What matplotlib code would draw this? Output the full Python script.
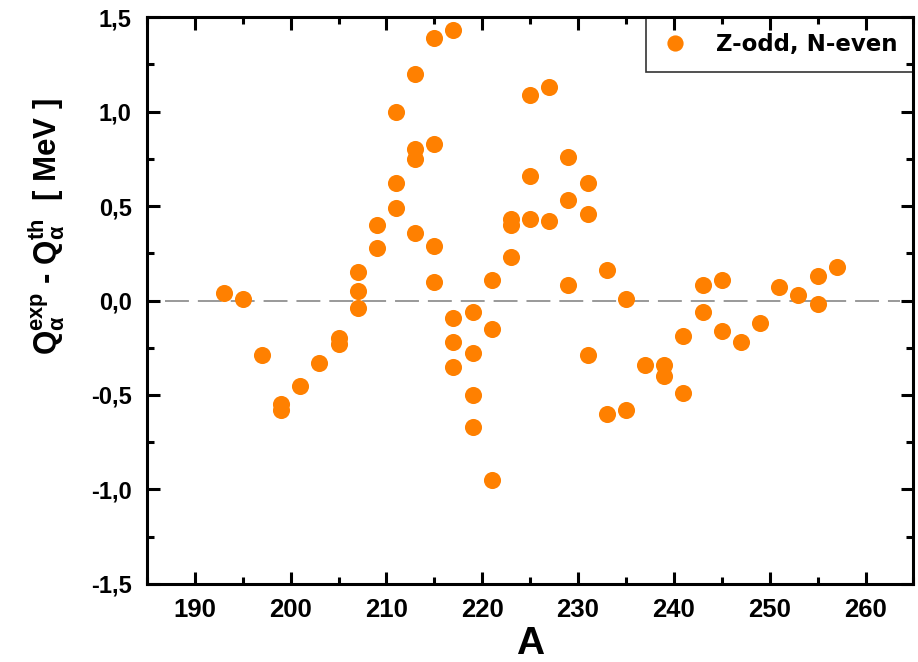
import matplotlib
matplotlib.use('Agg')
import matplotlib.pyplot as plt
from matplotlib.ticker import MultipleLocator, FuncFormatter

plt.rcParams['font.family'] = ['Liberation Sans', 'DejaVu Sans']
plt.rcParams['font.weight'] = 'bold'
plt.rcParams['mathtext.fontset'] = 'custom'
plt.rcParams['mathtext.rm'] = 'Liberation Sans:bold'
plt.rcParams['mathtext.it'] = 'Liberation Sans:bold:italic'
plt.rcParams['mathtext.bf'] = 'Liberation Sans:bold'

# mass number A and Q_exp - Q_th (MeV), Z-odd N-even nuclei
mass_number = [193, 195, 197, 199, 199, 201, 203, 205, 205,
               207, 207, 207, 209, 209, 211, 211, 211,
               213, 213, 213, 213, 215, 215, 215, 215,
               217, 217, 217, 217, 219, 219, 219, 219,
               221, 221, 221, 223, 223, 223, 225, 225, 225,
               227, 227, 229, 229, 229, 231, 231, 231,
               233, 233, 235, 235, 237, 239, 239, 241, 241,
               243, 243, 245, 245, 247, 249, 251, 253, 255, 255, 257]
delta_q = [0.04, 0.01, -0.29, -0.55, -0.58, -0.45, -0.33, -0.20, -0.23,
           0.15, 0.05, -0.04, 0.40, 0.28, 1.00, 0.62, 0.49,
           1.20, 0.80, 0.75, 0.36, 1.39, 0.83, 0.29, 0.10,
           1.43, -0.09, -0.22, -0.35, -0.06, -0.28, -0.50, -0.67,
           0.11, -0.15, -0.95, 0.43, 0.40, 0.23, 1.09, 0.66, 0.43,
           1.13, 0.42, 0.76, 0.53, 0.08, 0.62, 0.46, -0.29,
           0.16, -0.60, 0.01, -0.58, -0.34, -0.34, -0.40, -0.19, -0.49,
           0.08, -0.06, 0.11, -0.16, -0.22, -0.12, 0.07, 0.03, 0.13, -0.02, 0.18]

fig = plt.figure(figsize=(9.18, 6.62), dpi=100)
ax = fig.add_axes([0.160, 0.118, 0.835, 0.856])

# zero reference line
ax.hlines(0, 186.9, 263.6, colors='#999999', linestyles=(0, (12.3, 4.6)), linewidth=1.4, zorder=1)

ax.plot(mass_number, delta_q, 'o', color='#FF8000', markersize=12.3,
        markeredgewidth=0, label='Z-odd, N-even', zorder=3)

ax.set_xlim(185, 265)
ax.set_ylim(-1.5, 1.5)
ax.xaxis.set_major_locator(MultipleLocator(10))
ax.xaxis.set_minor_locator(MultipleLocator(5))
ax.yaxis.set_major_locator(MultipleLocator(0.5))
ax.yaxis.set_minor_locator(MultipleLocator(0.25))
ax.yaxis.set_major_formatter(FuncFormatter(lambda v, p: f'{v:.1f}'.replace('.', ',')))

ax.tick_params(which='both', direction='in', top=True, right=True, width=2.2)
ax.tick_params(which='major', length=9)
ax.tick_params(which='minor', length=5)
ax.tick_params(axis='x', labelsize=18.5, pad=10)
ax.tick_params(axis='y', labelsize=17, pad=11)
for sp in ax.spines.values():
    sp.set_linewidth(2.2)

ax.set_xlabel('A', fontsize=28, fontweight='bold', labelpad=3)
ax.set_ylabel(r'$\mathbf{Q_\alpha^{exp}}$ - $\mathbf{Q_\alpha^{th}}$  [ MeV ]',
              fontsize=22.5, fontweight='bold')
ax.yaxis.set_label_coords(-0.104, 0.63)

# transparent legend box so the top ticks show through it
leg = ax.legend(loc='upper right', borderaxespad=0, fancybox=False,
                edgecolor='black', facecolor='none', handletextpad=1.2, borderpad=0.7,
                handlelength=1.15, markerscale=0.95,
                prop={'family': 'DejaVu Sans', 'weight': 'bold', 'size': 16.5})
leg.get_frame().set_linewidth(1.2)

fig.savefig('out.png', dpi=100)
